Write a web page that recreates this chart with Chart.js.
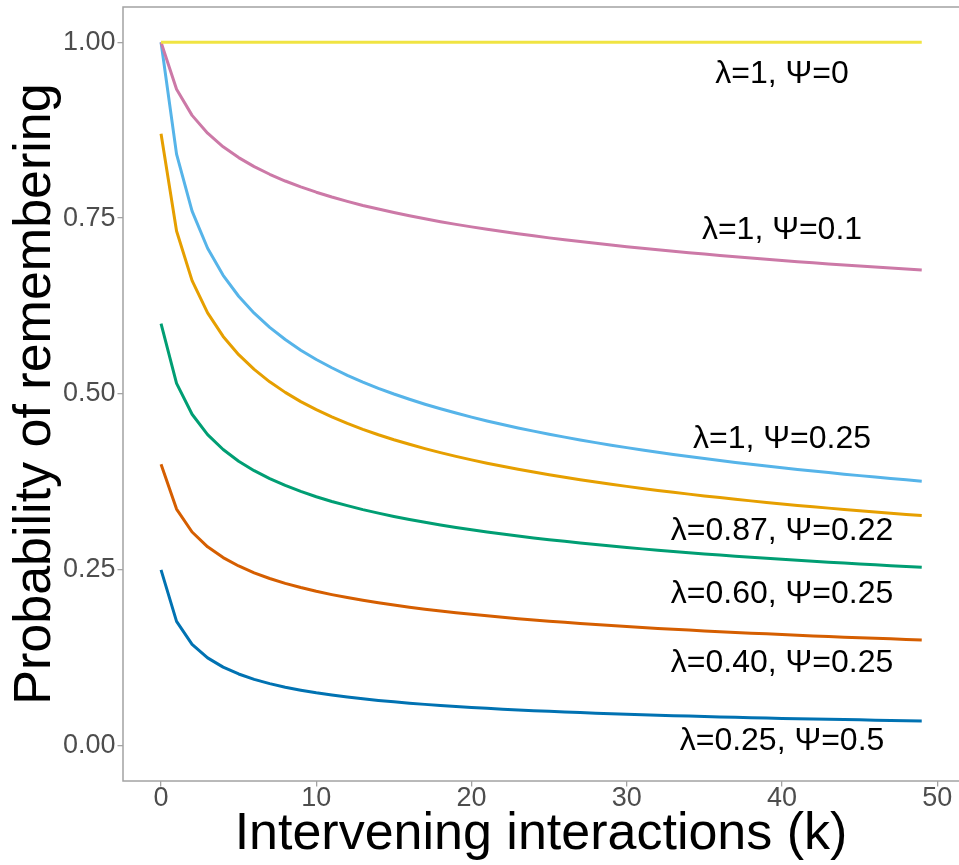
<!DOCTYPE html>
<html>
<head>
<meta charset="utf-8">
<title>Probability of remembering</title>
<script src="https://cdn.jsdelivr.net/npm/chart.js@4.4.0/dist/chart.umd.min.js"></script>
<style>
    html, body { margin: 0; padding: 0; background: #ffffff; }
    #wrap { width: 959px; height: 865px; }
</style>
</head>
<body>
<div id="wrap"><canvas id="decayChart" width="959" height="865"></canvas></div>
<script>
// intervening interactions k
const interactions = [0, 1, 2, 3, 4, 5, 6, 7, 8, 9, 10, 11, 12, 13, 14, 15, 16, 17, 18, 19,
    20, 21, 22, 23, 24, 25, 26, 27, 28, 29, 30, 31, 32, 33, 34, 35, 36, 37, 38, 39,
    40, 41, 42, 43, 44, 45, 46, 47, 48, 49];

// probability of remembering, one array per curve
const recallL1P0 = [1, 1, 1, 1, 1, 1, 1, 1, 1, 1, 1, 1, 1, 1, 1, 1, 1, 1, 1, 1,
    1, 1, 1, 1, 1, 1, 1, 1, 1, 1, 1, 1, 1, 1, 1, 1, 1, 1, 1, 1,
    1, 1, 1, 1, 1, 1, 1, 1, 1, 1];
const recallL1P01 = [1.0000, 0.9330, 0.8960, 0.8706, 0.8513, 0.8360, 0.8232, 0.8123, 0.8027, 0.7943,
    0.7868, 0.7800, 0.7738, 0.7680, 0.7628, 0.7579, 0.7533, 0.7490, 0.7449, 0.7411,
    0.7375, 0.7341, 0.7308, 0.7277, 0.7248, 0.7219, 0.7192, 0.7166, 0.7141, 0.7117,
    0.7094, 0.7071, 0.7049, 0.7028, 0.7008, 0.6988, 0.6969, 0.6951, 0.6933, 0.6915,
    0.6898, 0.6881, 0.6865, 0.6849, 0.6834, 0.6819, 0.6804, 0.6790, 0.6776, 0.6762];
const recallL1P025 = [1.0000, 0.8409, 0.7598, 0.7071, 0.6687, 0.6389, 0.6148, 0.5946, 0.5774, 0.5623,
    0.5491, 0.5373, 0.5266, 0.5170, 0.5081, 0.5000, 0.4925, 0.4855, 0.4790, 0.4729,
    0.4671, 0.4617, 0.4566, 0.4518, 0.4472, 0.4429, 0.4387, 0.4347, 0.4309, 0.4273,
    0.4238, 0.4204, 0.4172, 0.4141, 0.4111, 0.4082, 0.4055, 0.4028, 0.4002, 0.3976,
    0.3952, 0.3928, 0.3905, 0.3883, 0.3861, 0.3840, 0.3819, 0.3799, 0.3780, 0.3761];
const recallL087 = [0.8700, 0.7316, 0.6611, 0.6152, 0.5818, 0.5559, 0.5349, 0.5173, 0.5023, 0.4892,
    0.4777, 0.4674, 0.4582, 0.4498, 0.4421, 0.4350, 0.4285, 0.4224, 0.4167, 0.4114,
    0.4064, 0.4017, 0.3973, 0.3931, 0.3891, 0.3853, 0.3817, 0.3782, 0.3749, 0.3717,
    0.3687, 0.3658, 0.3630, 0.3603, 0.3577, 0.3552, 0.3528, 0.3504, 0.3481, 0.3459,
    0.3438, 0.3417, 0.3397, 0.3378, 0.3359, 0.3341, 0.3323, 0.3305, 0.3288, 0.3272];
const recallL060 = [0.6000, 0.5151, 0.4712, 0.4423, 0.4211, 0.4045, 0.3910, 0.3797, 0.3700, 0.3615,
    0.3540, 0.3473, 0.3413, 0.3357, 0.3307, 0.3260, 0.3217, 0.3177, 0.3139, 0.3104,
    0.3071, 0.3040, 0.3010, 0.2982, 0.2955, 0.2930, 0.2906, 0.2883, 0.2860, 0.2839,
    0.2819, 0.2799, 0.2780, 0.2762, 0.2744, 0.2727, 0.2711, 0.2695, 0.2680, 0.2665,
    0.2651, 0.2637, 0.2623, 0.2610, 0.2597, 0.2584, 0.2572, 0.2560, 0.2549, 0.2537];
const recallL040 = [0.4000, 0.3364, 0.3039, 0.2828, 0.2675, 0.2556, 0.2459, 0.2378, 0.2309, 0.2249,
    0.2196, 0.2149, 0.2107, 0.2068, 0.2033, 0.2000, 0.1970, 0.1942, 0.1916, 0.1891,
    0.1869, 0.1847, 0.1827, 0.1807, 0.1789, 0.1771, 0.1755, 0.1739, 0.1724, 0.1709,
    0.1695, 0.1682, 0.1669, 0.1656, 0.1645, 0.1633, 0.1622, 0.1611, 0.1601, 0.1591,
    0.1581, 0.1571, 0.1562, 0.1553, 0.1544, 0.1536, 0.1528, 0.1520, 0.1512, 0.1504];
const recallL025 = [0.2500, 0.1768, 0.1443, 0.1250, 0.1118, 0.1021, 0.0945, 0.0884, 0.0833, 0.0791,
    0.0754, 0.0722, 0.0693, 0.0668, 0.0645, 0.0625, 0.0606, 0.0589, 0.0574, 0.0559,
    0.0546, 0.0533, 0.0521, 0.0510, 0.0500, 0.0490, 0.0481, 0.0472, 0.0464, 0.0456,
    0.0449, 0.0442, 0.0435, 0.0429, 0.0423, 0.0417, 0.0411, 0.0406, 0.0400, 0.0395,
    0.0390, 0.0386, 0.0381, 0.0377, 0.0373, 0.0369, 0.0365, 0.0361, 0.0357, 0.0354];

const curveLabels = ['λ=1, Ψ=0', 'λ=1, Ψ=0.1', 'λ=1, Ψ=0.25', 'λ=0.87, Ψ=0.22',
    'λ=0.60, Ψ=0.25', 'λ=0.40, Ψ=0.25', 'λ=0.25, Ψ=0.5'];
const labelX = [40, 40, 40, 40, 40, 40, 40];
const labelY = [0.956, 0.735, 0.437, 0.307, 0.217, 0.119, 0.008];

const xTicks = [0, 10, 20, 30, 40, 50];
const yTicks = [0, 0.25, 0.5, 0.75, 1];

const curveColors = ['#F0E442', '#CC79A7', '#56B4E9', '#E69F00', '#009E73', '#D55E00', '#0072B2'];
const curves = [recallL1P0, recallL1P01, recallL1P025, recallL087, recallL060, recallL040, recallL025];

const FONT = "'Liberation Sans', Arial, Helvetica, sans-serif";
const borderGrey = '#a3a3a3';

function toPoints(values) {
    return values.map((v, i) => ({ x: interactions[i], y: v }));
}

// grey frame round the panel, drawn over the lines like ggplot does
const panelBorder = {
    id: 'panelBorder',
    afterDatasetsDraw(chart) {
        const { ctx, chartArea } = chart;
        ctx.save();
        ctx.strokeStyle = borderGrey;
        ctx.lineWidth = 1.5;
        ctx.strokeRect(chartArea.left, chartArea.top,
            chartArea.right - chartArea.left + 2, chartArea.bottom - chartArea.top);
        ctx.restore();
    }
};

// text labels next to each curve
const curveText = {
    id: 'curveText',
    afterDatasetsDraw(chart) {
        const { ctx, scales } = chart;
        const size = 32;
        ctx.save();
        ctx.fillStyle = '#000000';
        ctx.font = size + 'px ' + FONT;
        ctx.textAlign = 'center';
        ctx.textBaseline = 'alphabetic';
        curveLabels.forEach((txt, i) => {
            const px = scales.x.getPixelForValue(labelX[i]);
            const py = scales.y.getPixelForValue(labelY[i]) + 10;
            ctx.fillText(txt, px, py);
        });
        ctx.restore();
    }
};

function noScalePadding(scale) {
    scale.paddingTop = 0;
    scale.paddingBottom = 0;
    scale.paddingLeft = 0;
    scale.paddingRight = 0;
}

const ctx = document.getElementById('decayChart');

new Chart(ctx, {
    type: 'line',
    data: {
        datasets: curves.map((values, i) => ({
            label: curveLabels[i],
            data: toPoints(values),
            borderColor: curveColors[i],
            backgroundColor: curveColors[i],
            borderWidth: 3,
            pointRadius: 0,
            tension: 0,
            fill: false,
            borderJoinStyle: 'round'
        }))
    },
    options: {
        responsive: false,
        animation: false,
        layout: {
            autoPadding: false,
            padding: { top: 7, right: 0, left: 0, bottom: 0 }
        },
        scales: {
            x: {
                type: 'linear',
                min: -2.45,
                max: 51.4,
                afterBuildTicks: (scale) => {
                    scale.ticks = xTicks.map(v => ({ value: v }));
                },
                afterFit: (scale) => {
                    scale.height = 84;
                    noScalePadding(scale);
                },
                border: { display: false },
                grid: {
                    drawOnChartArea: false,
                    drawTicks: true,
                    tickLength: 5.5,
                    color: borderGrey,
                    lineWidth: 1.3
                },
                ticks: {
                    color: '#4d4d4d',
                    padding: -1,
                    maxRotation: 0,
                    font: { family: FONT, size: 27, lineHeight: 1 }
                },
                title: {
                    display: true,
                    text: 'Intervening interactions (k)',
                    color: '#000000',
                    padding: { top: 0, bottom: 4 },
                    font: { family: FONT, size: 52, lineHeight: 1 }
                }
            },
            y: {
                min: -0.05,
                max: 1.05,
                afterBuildTicks: (scale) => {
                    scale.ticks = yTicks.map(v => ({ value: v }));
                },
                afterFit: (scale) => {
                    scale.width = 123;
                    noScalePadding(scale);
                },
                border: { display: false },
                grid: {
                    drawOnChartArea: false,
                    drawTicks: true,
                    tickLength: 5.5,
                    color: borderGrey,
                    lineWidth: 1.3
                },
                ticks: {
                    color: '#4d4d4d',
                    padding: 2,
                    font: { family: FONT, size: 27, lineHeight: 1 },
                    callback: (value) => value.toFixed(2)
                },
                title: {
                    display: true,
                    text: 'Probability of remembering',
                    color: '#000000',
                    padding: { top: 10, bottom: 0 },
                    font: { family: FONT, size: 52, lineHeight: 1 }
                }
            }
        },
        plugins: {
            legend: { display: false },
            tooltip: { enabled: false }
        }
    },
    plugins: [panelBorder, curveText]
});
</script>
</body>
</html>
